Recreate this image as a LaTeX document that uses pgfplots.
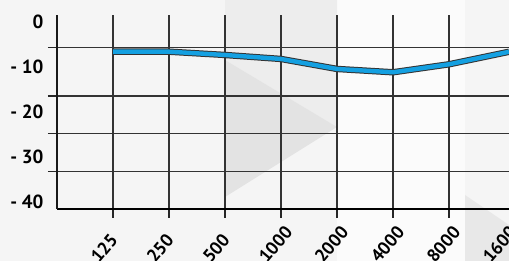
\documentclass[border=0pt]{standalone}
\usepackage{pgfplots}
\pgfplotsset{compat=1.18}
\usepackage{fontspec}
\setmainfont{PT Sans}
\definecolor{lineblue}{RGB}{20,160,225}
\begin{document}
\begin{tikzpicture}
% decorative background (pixel -> pt: (px-57, 209-py))
\fill[black!4] (-57pt,-52pt) rectangle (452pt,209pt);
\fill[black!1.5] (280pt,-52pt) rectangle (408pt,209pt);
\fill[black!7] (168pt,209pt) -- (280pt,209pt) -- (280pt,82pt) -- (168pt,149pt) -- cycle;
\fill[black!11] (168pt,149pt) -- (280pt,82pt) -- (168pt,12pt) -- cycle;
\fill[black!9] (408pt,14pt) -- (452pt,-16pt) -- (452pt,-52pt) -- (408pt,-52pt) -- cycle;
\begin{axis}[
  at={(0pt,0pt)}, anchor=south west,
  scale only axis, width=452pt, height=194pt,
  xmin=-1, xmax=7.07, ymin=-41.56, ymax=1.58,
  axis lines*=left, axis line style={-},
  x axis line style={line width=2.4pt, black},
  y axis line style={line width=1.6pt, black!90},
  tick align=outside,
  xtick={0,1,2,3,4,5,6},
  xticklabels={125,250,500,1000,2000,4000,8000},
  extra x ticks={7}, extra x tick labels={16000},
  extra x tick style={grid=none, major tick length=0pt, xticklabel style={xshift=-6.9pt, yshift=-5.8pt}},
  xmajorgrids, ymajorgrids,
  major tick length=9pt,
  tick style={line width=1.2pt, black!85},
  ytick={-5.69,-16.42,-24.76,-33.31},
  yticklabels={},
  extra y ticks={0,-10,-20,-30,-40},
  extra y tick labels={0,- 10,- 20,- 30,- 40},
  extra y tick style={grid=none, major tick length=0pt},
  grid style={line width=1.2pt, black!80},
  /pgf/number format/assume math mode=true,
  xticklabel style={font=\fontsize{18}{18}\selectfont\bfseries, xshift=-21pt, yshift=-44.5pt, rotate=50, anchor=west},
  yticklabel style={font=\fontsize{19}{19}\selectfont\bfseries, xshift=-10pt},
  clip=false,
]
\addplot[line width=6.4pt, black!80, line join=round] coordinates {
  (0,-6.58) (1,-6.58) (2,-7.31) (3,-8.2) (4,-10.42) (5,-11.16) (6,-9.38) (7.07,-6.6)
};
\addplot[line width=4.4pt, lineblue, line join=round] coordinates {
  (0,-6.58) (1,-6.58) (2,-7.31) (3,-8.2) (4,-10.42) (5,-11.16) (6,-9.38) (7.07,-6.6)
};
\end{axis}
\pgfresetboundingbox
\useasboundingbox (-57pt,-52pt) rectangle (452pt,209pt);
\end{tikzpicture}
\end{document}
